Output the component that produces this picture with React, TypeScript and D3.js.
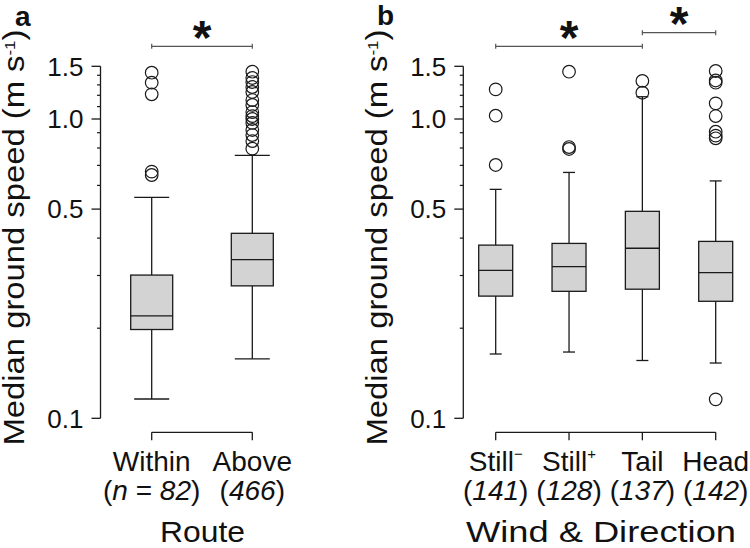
import React from "react";
import * as d3 from "d3";

// ---- Data ----
const routeCats = ["Within", "Above"];
const routeN = ["82", "466"];
const routeLow = [0.116, 0.158];
const routeQ1 = [0.198, 0.277];
const routeMed = [0.22, 0.339];
const routeQ3 = [0.301, 0.415];
const routeHigh = [0.547, 0.756];
const routeOutliers = [
  [1.428, 1.322, 1.209, 0.667, 0.65],
  [1.439, 1.371, 1.329, 1.279, 1.231, 1.157, 1.114, 1.055, 1.023, 1.0, 0.97, 0.919, 0.884, 0.844, 0.796],
];

const windCats = ["Still", "Still", "Tail", "Head"];
const windSup = ["\u2212", "+", "", ""];
const windN = ["141", "128", "137", "142"];
const windLow = [0.164, 0.1665, 0.156, 0.153];
const windQ1 = [0.256, 0.2656, 0.27, 0.246];
const windMed = [0.312, 0.321, 0.37, 0.3065];
const windQ3 = [0.379, 0.384, 0.4915, 0.39];
const windHigh = [0.582, 0.663, 1.187, 0.621];
const windOutliers = [
  [1.256, 1.026, 0.702],
  [1.439, 0.806, 0.794],
  [1.34, 1.224],
  [1.447, 1.345, 1.322, 1.128, 1.023, 0.907, 0.88, 0.862, 0.1157],
];

const majorTicks = [0.1, 0.5, 1.0, 1.5];
const majorLabels = ["0.1", "0.5", "1.0", "1.5"];
const minorTicks = [0.2, 0.3, 0.4, 0.6, 0.7, 0.8, 0.9, 1.1, 1.2, 1.3, 1.4];

const FONT = "'Liberation Sans', Arial, Helvetica, sans-serif";
const STROKE = "#1a1a1a";

const y = d3.scaleLog().domain([0.1, 1.5]).range([418.3, 66.3]);

function YAxis({ x0 }: { x0: number }) {
  return (
    <g>
      <line x1={x0} x2={x0} y1={y(1.5)} y2={y(0.1)} stroke={STROKE} strokeWidth={1.3} />
      {majorTicks.map((t, i) => (
        <g key={"M" + i}>
          <line x1={x0 - 9} x2={x0} y1={y(t)} y2={y(t)} stroke={STROKE} strokeWidth={1.3} />
          <text x={x0 - 17} y={y(t)} dy="0.36em" textAnchor="end" fontSize={26} fontFamily={FONT} fill="#111">
            {majorLabels[i]}
          </text>
        </g>
      ))}
      {minorTicks.map((t, i) => (
        <line key={"m" + i} x1={x0 - 3.5} x2={x0} y1={y(t)} y2={y(t)} stroke={STROKE} strokeWidth={1.2} />
      ))}
    </g>
  );
}

function YTitle({ x }: { x: number }) {
  return (
    <text
      transform={`translate(${x},${237.5}) rotate(-90)`}
      textAnchor="middle"
      fontSize={29}
      fontFamily={FONT}
      fill="#111"
      textLength={416}
      lengthAdjust="spacingAndGlyphs"
    >
      Median ground speed (m s
      <tspan fontSize={15} dy={-9}>-1</tspan>
      <tspan dy={9}>)</tspan>
    </text>
  );
}

function Boxes({
  xs, low, q1, med, q3, high, outliers, boxW, capW,
}: {
  xs: number[]; low: number[]; q1: number[]; med: number[]; q3: number[]; high: number[];
  outliers: number[][]; boxW: number; capW: number;
}) {
  return (
    <g>
      {xs.map((cx, i) => (
        <g key={i}>
          <line x1={cx} x2={cx} y1={y(high[i])} y2={y(q3[i])} stroke={STROKE} strokeWidth={1.3} />
          <line x1={cx} x2={cx} y1={y(q1[i])} y2={y(low[i])} stroke={STROKE} strokeWidth={1.3} />
          <line x1={cx - capW / 2} x2={cx + capW / 2} y1={y(high[i])} y2={y(high[i])} stroke={STROKE} strokeWidth={1.3} />
          <line x1={cx - capW / 2} x2={cx + capW / 2} y1={y(low[i])} y2={y(low[i])} stroke={STROKE} strokeWidth={1.3} />
          <rect x={cx - boxW / 2} y={y(q3[i])} width={boxW} height={y(q1[i]) - y(q3[i])} fill="#d3d3d3" stroke={STROKE} strokeWidth={1.3} />
          <line x1={cx - boxW / 2} x2={cx + boxW / 2} y1={y(med[i])} y2={y(med[i])} stroke={STROKE} strokeWidth={1.3} />
          {outliers[i].map((v, j) => (
            <circle key={j} cx={cx} cy={y(v)} r={6.3} fill="none" stroke={STROKE} strokeWidth={1.2} />
          ))}
        </g>
      ))}
    </g>
  );
}

function XBracket({ xs }: { xs: number[] }) {
  const yb = 432.3;
  return (
    <g>
      <line x1={xs[0]} x2={xs[xs.length - 1]} y1={yb} y2={yb} stroke={STROKE} strokeWidth={1.3} />
      {xs.map((cx, i) => (
        <line key={i} x1={cx} x2={cx} y1={yb} y2={yb + 8} stroke={STROKE} strokeWidth={1.3} />
      ))}
    </g>
  );
}

function Sig({ x1, x2, yb, ys }: { x1: number; x2: number; yb: number; ys: number }) {
  return (
    <g>
      <line x1={x1} x2={x2} y1={yb} y2={yb} stroke="#555" strokeWidth={1.2} />
      <line x1={x1} x2={x1} y1={yb - 2.5} y2={yb + 2.5} stroke="#555" strokeWidth={1.2} />
      <line x1={x2} x2={x2} y1={yb - 2.5} y2={yb + 2.5} stroke="#555" strokeWidth={1.2} />
      <text x={(x1 + x2) / 2} y={ys} textAnchor="middle" fontSize={48} fontWeight="bold" fontFamily={FONT} fill="#111">
        *
      </text>
    </g>
  );
}

export default function App() {
  const xRoute = d3.scalePoint<string>().domain(routeCats).range([151.7, 252.3]);
  const xWind = d3.scalePoint<string>().domain(windCats.map((c, i) => c + i)).range([495.7, 715.7]);
  const rx = routeCats.map((c) => xRoute(c) as number);
  const wx = windCats.map((c, i) => xWind(c + i) as number);

  return (
    <svg width={750} height={548} style={{ position: "absolute", left: 0, top: 0, background: "#fff" }}>
      <rect width={750} height={548} fill="#fff" />
      {/* panel a */}
      <text x={15} y={26} fontSize={28} fontWeight="bold" fontFamily={FONT} fill="#111">a</text>
      <YTitle x={24} />
      <YAxis x0={100.5} />
      <Boxes xs={rx} low={routeLow} q1={routeQ1} med={routeMed} q3={routeQ3} high={routeHigh} outliers={routeOutliers} boxW={42} capW={35} />
      <XBracket xs={rx} />
      <Sig x1={rx[0]} x2={rx[1]} yb={46.3} ys={54} />
      {routeCats.map((c, i) => (
        <g key={c}>
          <text x={rx[i]} y={470.7} textAnchor="middle" fontSize={28} fontFamily={FONT} fill="#111">{c}</text>
          <text x={rx[i]} y={500} textAnchor="middle" fontSize={28} fontFamily={FONT} fill="#111">
            (
            {i === 0 ? (
              <>
                <tspan fontStyle="italic">n</tspan> = <tspan fontStyle="italic">{routeN[i]}</tspan>
              </>
            ) : (
              <tspan fontStyle="italic">{routeN[i]}</tspan>
            )}
            )
          </text>
        </g>
      ))}
      <text x={202.5} y={542} textAnchor="middle" fontSize={30} fontFamily={FONT} fill="#111" textLength={85} lengthAdjust="spacingAndGlyphs">Route</text>

      {/* panel b */}
      <text x={377} y={25} fontSize={28} fontWeight="bold" fontFamily={FONT} fill="#111">b</text>
      <YTitle x={387} />
      <YAxis x0={463.3} />
      <Boxes xs={wx} low={windLow} q1={windQ1} med={windMed} q3={windQ3} high={windHigh} outliers={windOutliers} boxW={34} capW={12} />
      <XBracket xs={wx} />
      <Sig x1={wx[0]} x2={wx[2]} yb={46.3} ys={54} />
      <Sig x1={wx[2]} x2={wx[3]} yb={32.7} ys={40} />
      {windCats.map((c, i) => (
        <g key={i}>
          <text x={wx[i]} y={470.7} textAnchor="middle" fontSize={28} fontFamily={FONT} fill="#111">
            {c}
            {windSup[i] ? <tspan fontSize={15} dy={-12}>{windSup[i]}</tspan> : null}
          </text>
          <text x={wx[i]} y={500} textAnchor="middle" fontSize={28} fontFamily={FONT} fill="#111">
            (<tspan fontStyle="italic">{windN[i]}</tspan>)
          </text>
        </g>
      ))}
      <text x={601} y={542} textAnchor="middle" fontSize={30} fontFamily={FONT} fill="#111" textLength={270} lengthAdjust="spacingAndGlyphs">Wind &amp; Direction</text>
    </svg>
  );
}
